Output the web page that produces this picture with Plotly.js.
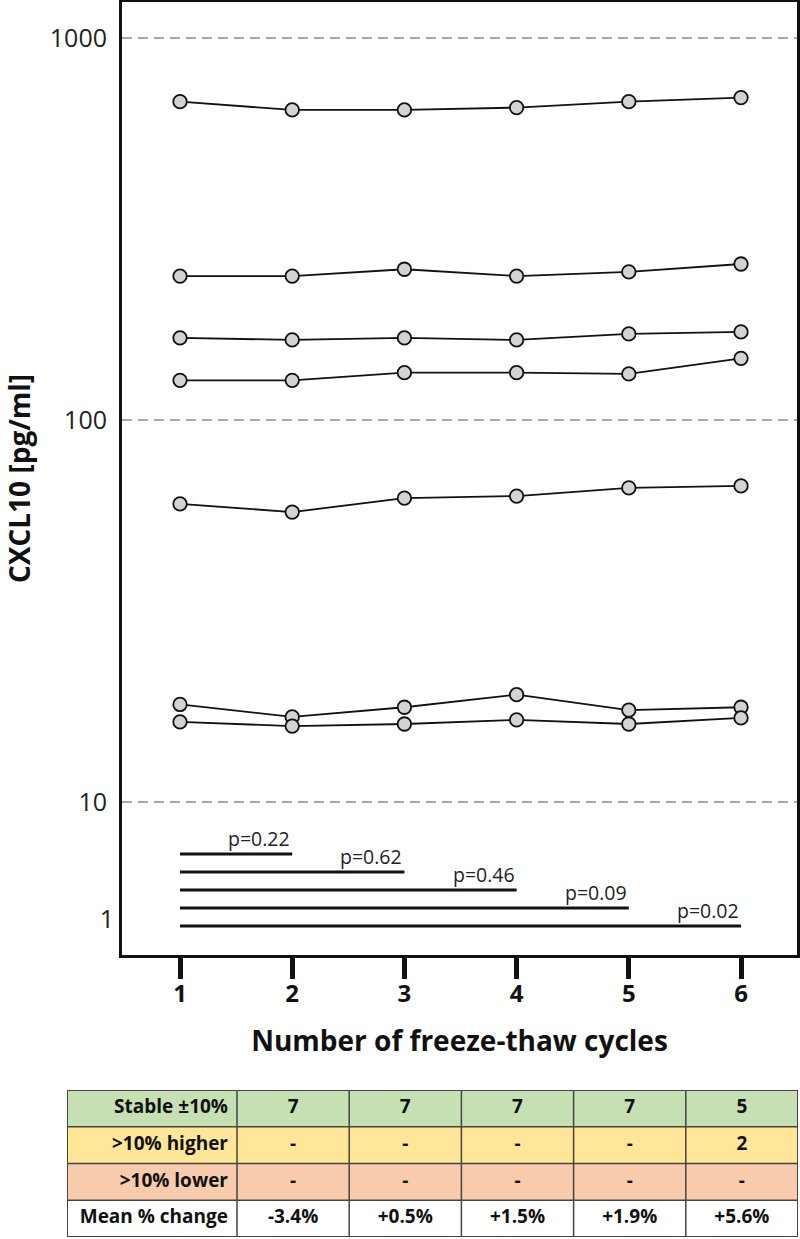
<!DOCTYPE html>
<html>
<head>
<meta charset="utf-8">
<script src="https://cdn.plot.ly/plotly-3.0.1.min.js"></script>
<style>html,body{margin:0;padding:0;background:#fff;}</style>
</head>
<body>
<div id="chart" style="width:800px;height:1239px;"></div>
<script>
// ---- data ----
var cycles = [1, 2, 3, 4, 5, 6];
var sample1 = [681, 648, 648, 657, 681, 698];
var sample2 = [238, 238, 248, 238, 244, 256];
var sample3 = [164, 162, 164, 162, 168, 170];
var sample4 = [127, 127, 133, 133, 132, 145];
var sample5 = [60.3, 57.4, 62.4, 63.2, 66.4, 67.2];
var sample6 = [18.0, 16.7, 17.7, 19.1, 17.4, 17.7];
var sample7 = [16.2, 15.8, 16.0, 16.4, 16.0, 16.6];
var yTickVals = [10, 100, 1000];
var yTickText = ['10', '100', '1000'];

var pComparisons = [2, 3, 4, 5, 6];
var pValues = ['0.22', '0.62', '0.46', '0.09', '0.02'];

var rowLabels = ['Stable ±10%', '>10% higher', '>10% lower', 'Mean % change'];
var stableCounts = ['7', '7', '7', '7', '5'];
var higherCounts = ['-', '-', '-', '-', '2'];
var lowerCounts = ['-', '-', '-', '-', '-'];
var meanChange = ['-3.4%', '+0.5%', '+1.5%', '+1.9%', '+5.6%'];

// ---- styles ----
var FONT = 'Open Sans, Noto Sans, Liberation Sans, sans-serif';
var INK = '#111111';
var rowColors = ['#c6e0b4', '#ffe699', '#f8cbad', '#ffffff'];
var labelColWidth = 170, dataColWidth = 112.2;

var samples = [sample1, sample2, sample3, sample4, sample5, sample6, sample7];
var traces = samples.map(function (s) {
  return {
    type: 'scatter', mode: 'lines+markers', x: cycles, y: s,
    xaxis: 'x', yaxis: 'y',
    line: {color: INK, width: 1.8},
    marker: {size: 13.5, color: '#d3d3d3', line: {color: INK, width: 1.8}},
    hoverinfo: 'x+y'
  };
});

var n = pComparisons.length;
var annotations = [];
pComparisons.forEach(function (k, i) {
  var level = n - i;
  traces.push({
    type: 'scatter', mode: 'lines', x: [cycles[0], k], y: [level, level],
    xaxis: 'x', yaxis: 'y2',
    line: {color: INK, width: 3}, hoverinfo: 'skip'
  });
  annotations.push({
    x: k, y: level, xref: 'x', yref: 'y2', text: 'p=' + pValues[i],
    xanchor: 'right', yanchor: 'bottom', showarrow: false, yshift: 0,
    font: {family: FONT, size: 19.5, color: '#222'}
  });
});

// ---- table (heatmap cells + text) ----
var dataCols = [stableCounts, higherCounts, lowerCounts, meanChange];
var nCols = stableCounts.length;
var nRows = rowLabels.length;
var xEdges = [0, labelColWidth];
for (var c = 0; c < nCols; c++) xEdges.push(labelColWidth + (c + 1) * dataColWidth);
var yEdges = [];
for (var r = 0; r <= nRows; r++) yEdges.push(r);
var zCells = rowLabels.map(function (_, r) {
  var row = [];
  for (var c = 0; c <= nCols; c++) row.push(r);
  return row;
});
var cs = [];
rowColors.forEach(function (col, i) {
  cs.push([i / nRows, col]);
  cs.push([(i + 1) / nRows, col]);
});
traces.push({
  type: 'heatmap', x: xEdges, y: yEdges, z: zCells,
  xaxis: 'x3', yaxis: 'y3',
  zmin: -0.5, zmax: nRows - 0.5,
  colorscale: cs, showscale: false, hoverinfo: 'skip'
});
var yCenters = rowLabels.map(function (_, r) { return r + 0.5; });
traces.push({
  type: 'scatter', mode: 'text', xaxis: 'x3', yaxis: 'y3',
  x: rowLabels.map(function () { return labelColWidth - 9; }),
  y: yCenters, text: rowLabels, textposition: 'middle left',
  textfont: {family: FONT, size: 19, color: INK, weight: 'bold'},
  hoverinfo: 'skip'
});
for (var c2 = 0; c2 < nCols; c2++) {
  var colText = dataCols.map(function (arr) { return arr[c2]; });
  var xc = (xEdges[c2 + 1] + xEdges[c2 + 2]) / 2;
  traces.push({
    type: 'scatter', mode: 'text', xaxis: 'x3', yaxis: 'y3',
    x: colText.map(function () { return xc; }),
    y: yCenters, text: colText, textposition: 'middle center',
    textfont: {family: FONT, size: 19, color: INK, weight: 'bold'},
    hoverinfo: 'skip'
  });
}
var shapes = [];
yEdges.forEach(function (yv, i) {
  var outer = (i === 0 || i === yEdges.length - 1);
  shapes.push({type: 'line', xref: 'x3', yref: 'y3', x0: 0, x1: xEdges[xEdges.length - 1], y0: yv, y1: yv,
    line: {color: '#444', width: outer ? 2 : 1.5}});
});
xEdges.forEach(function (xv, i) {
  var outer = (i === 0 || i === xEdges.length - 1);
  shapes.push({type: 'line', xref: 'x3', yref: 'y3', x0: xv, x1: xv, y0: 0, y1: nRows,
    line: {color: '#444', width: outer ? 2 : 1.5}});
});

var layout = {
  width: 800, height: 1239,
  margin: {l: 0, r: 0, t: 0, b: 0},
  paper_bgcolor: '#ffffff', plot_bgcolor: '#ffffff',
  showlegend: false,
  xaxis: {
    domain: [122 / 800, 797 / 800],
    range: [0.483, 6.499],
    tickvals: cycles,
    ticks: 'outside', ticklen: 21, tickwidth: 5, tickcolor: INK,
    ticklabelstandoff: -6,
    showline: true, linewidth: 3, linecolor: INK, mirror: true,
    showgrid: false, zeroline: false,
    tickfont: {family: FONT, size: 24, color: INK, weight: 'bold'},
    title: {text: 'Number of freeze-thaw cycles', standoff: 24,
      font: {family: FONT, size: 28, color: INK, weight: 'bold'}}
  },
  yaxis: {
    domain: [1 - 955 / 1239, 1 - 2 / 1239],
    type: 'log', range: [0.5995, 3.094],
    tickvals: yTickVals, ticktext: yTickText,
    ticks: '', ticklabelstandoff: 7,
    showline: true, linewidth: 3, linecolor: INK, mirror: true,
    showgrid: true, gridcolor: '#a8a8a8', gridwidth: 2, griddash: '10px,6px',
    zeroline: false,
    tickfont: {family: FONT, size: 25, color: '#222'},
    title: {text: 'CXCL10 [pg/ml]', standoff: 22,
      font: {family: FONT, size: 28, color: INK, weight: 'bold'}}
  },
  yaxis2: {
    overlaying: 'y', anchor: 'x', side: 'left',
    range: [-0.611, 52.33],
    tickvals: [1.4], ticktext: ['1'],
    ticks: '', ticklabelstandoff: 7,
    showgrid: false, zeroline: false, showline: false,
    tickfont: {family: FONT, size: 25, color: '#222'}
  },
  xaxis3: {
    domain: [67 / 800, 798 / 800], anchor: 'y3',
    range: [0, labelColWidth + nCols * dataColWidth],
    visible: false, fixedrange: true
  },
  yaxis3: {
    domain: [1 - 1237 / 1239, 1 - 1090 / 1239], anchor: 'x3',
    range: [nRows, 0],
    visible: false, fixedrange: true
  },
  shapes: shapes,
  annotations: annotations
};

Plotly.newPlot('chart', traces, layout, {displayModeBar: false, staticPlot: true});
</script>
</body>
</html>
